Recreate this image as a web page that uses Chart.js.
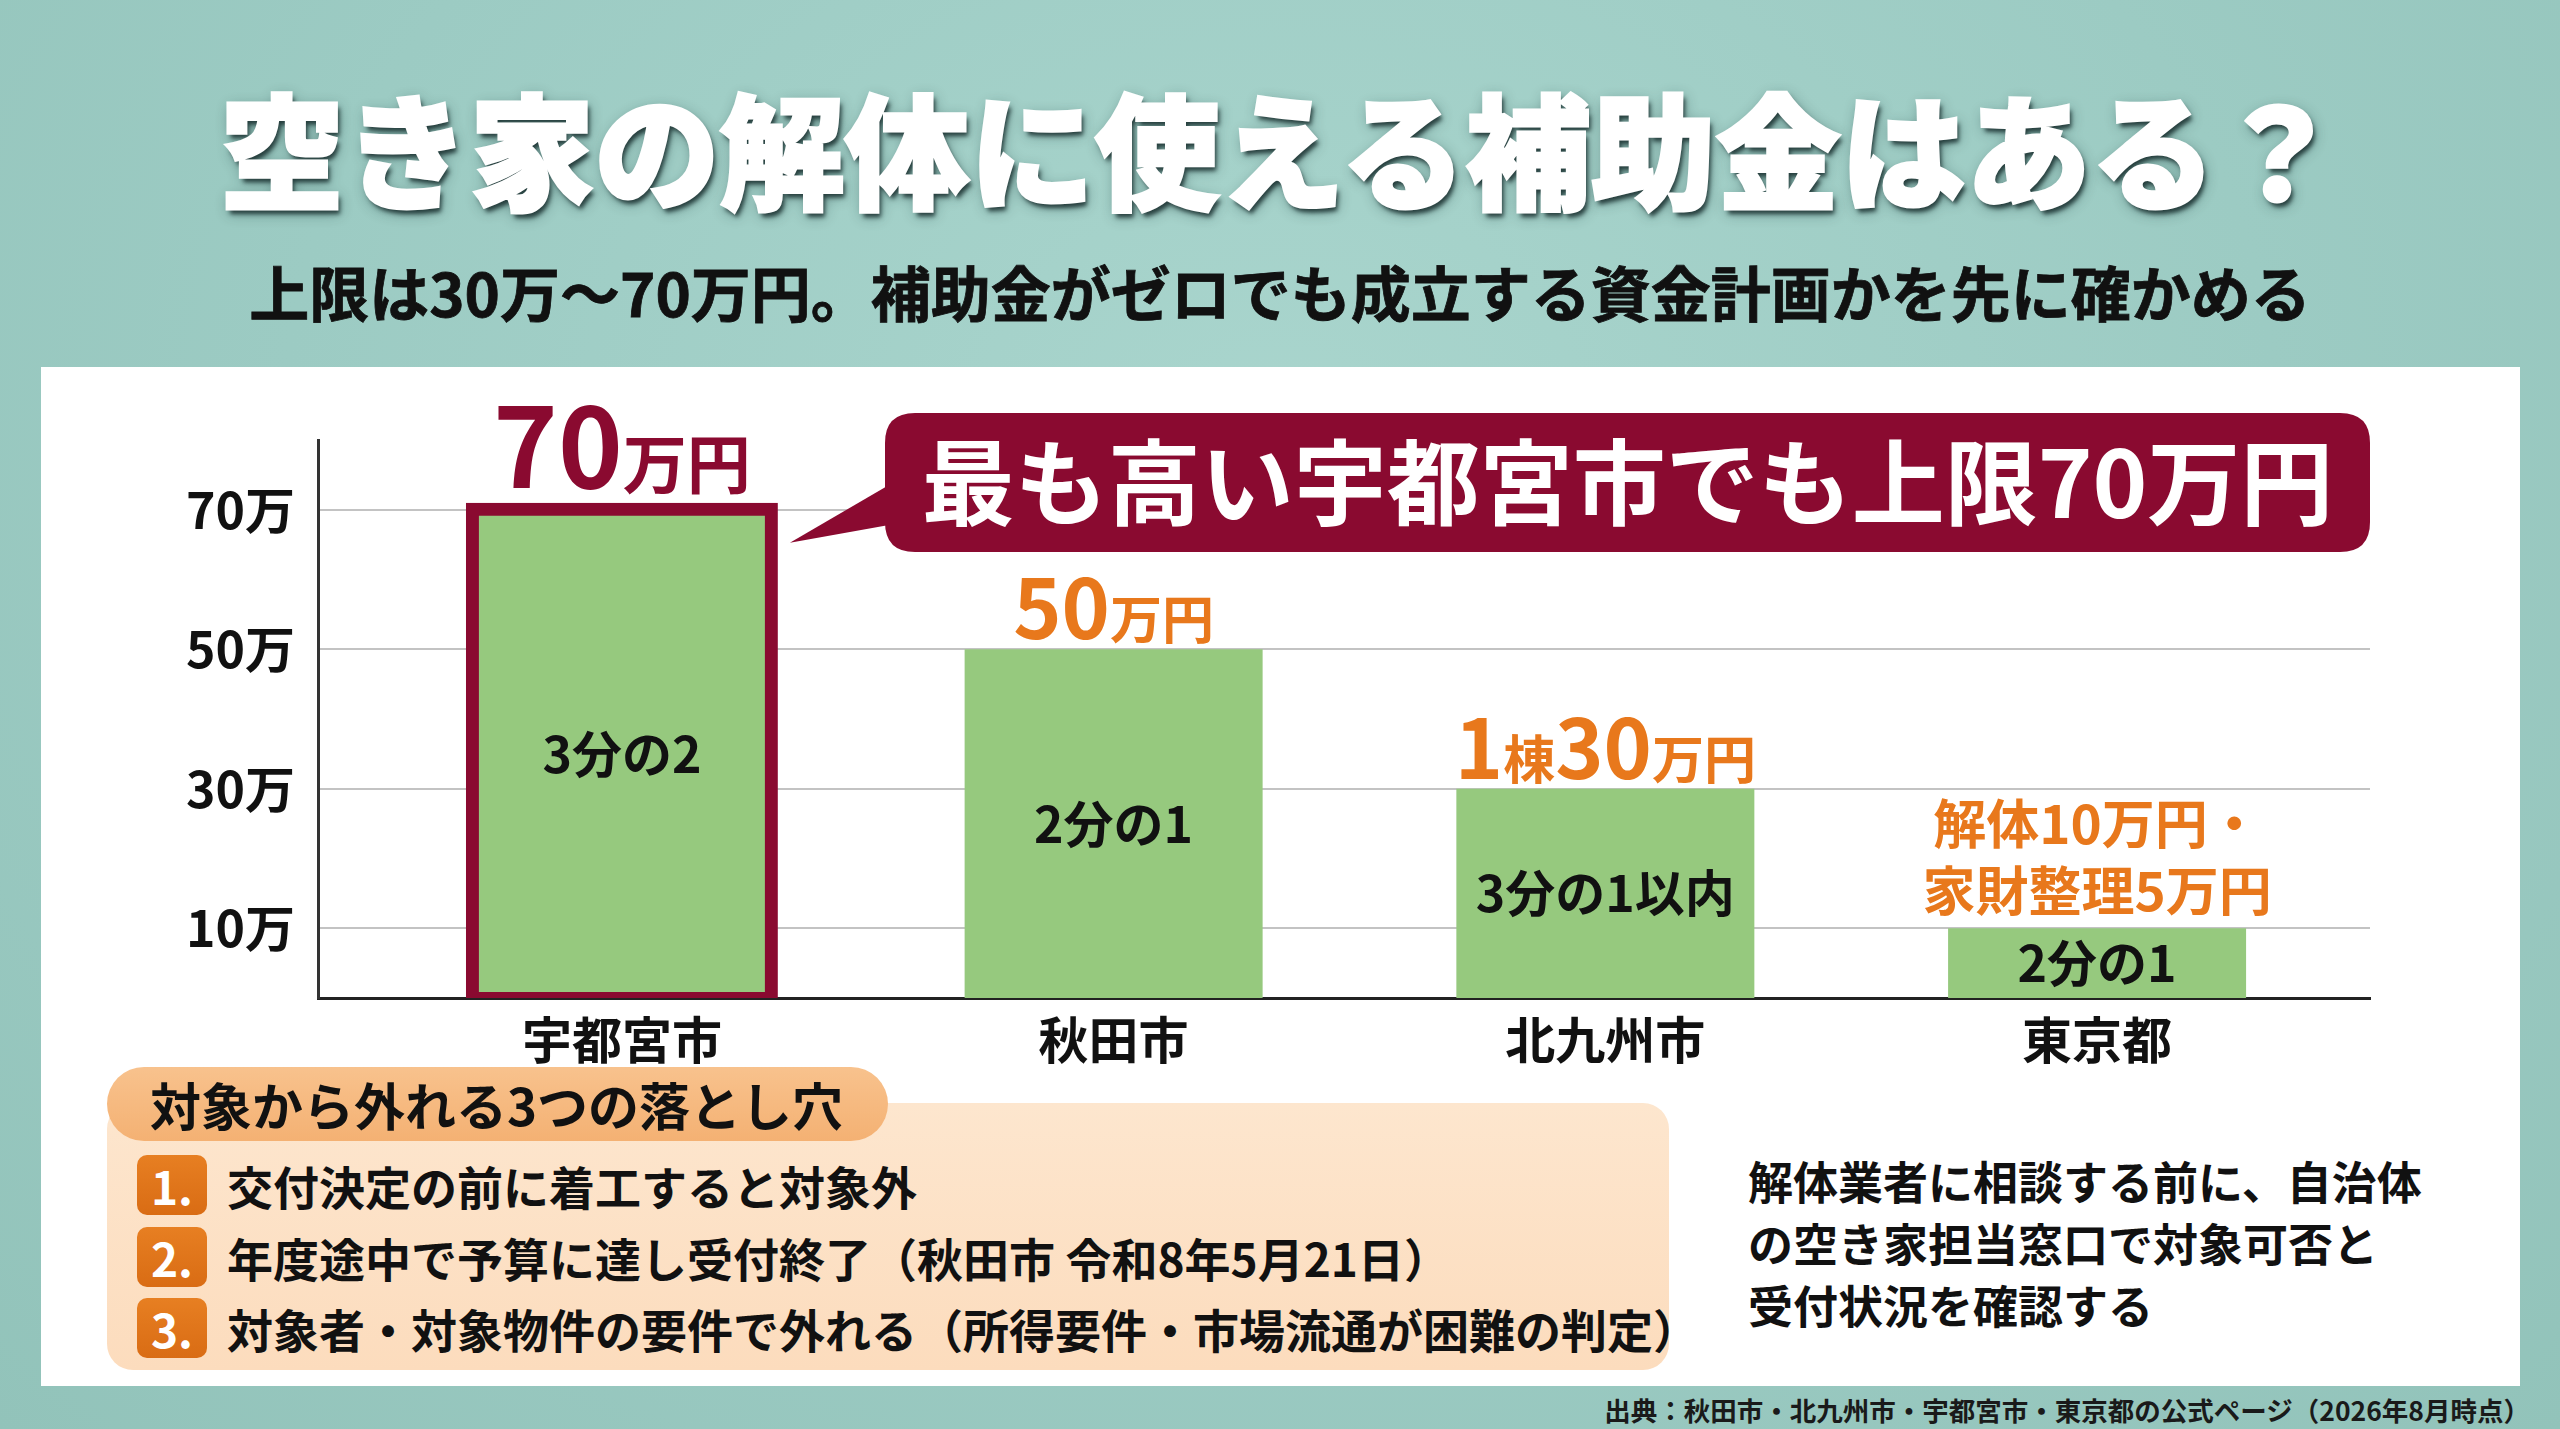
<!DOCTYPE html>
<html lang="ja">
<head>
<meta charset="utf-8">
<title>空き家の解体に使える補助金はある？</title>
<script src="https://cdn.jsdelivr.net/npm/chart.js@4.4.1/dist/chart.umd.min.js"></script>
<style>
html, body { margin: 0; padding: 0; }
body {
    width: 2560px; height: 1429px; overflow: hidden; position: relative;
    background: radial-gradient(ellipse at 50% 30%, #a9d5cd 0%, #9ccbc3 55%, #92c3ba 100%);
    font-family: "Noto Sans CJK JP", "Noto Sans", sans-serif; color: #111;
}
#title {
    position: absolute; left: 0; top: 83px; width: 2560px; text-align: center;
    font-size: 125px; line-height: 125px; font-weight: 900; color: #fff;
    -webkit-text-stroke: 3px #fff;
    text-shadow: 3px 5px 4px rgba(20, 40, 40, 0.8), 2px 4px 14px rgba(20, 50, 50, 0.45);
}
#subtitle {
    position: absolute; left: 0; top: 261px; width: 2560px; text-align: center;
    font-size: 60px; line-height: 60px; font-weight: 700;
    -webkit-text-stroke: 0.8px #111;
}
#panel { position: absolute; left: 41px; top: 367px; width: 2479px; height: 1019px; background: #fff; }
#chart { position: absolute; left: 41px; top: 367px; }
#box {
    position: absolute; left: 107px; top: 1103px; width: 1562px; height: 267px;
    border-radius: 26px; background: linear-gradient(#fde6ce, #fcdcbd);
}
#pill {
    position: absolute; left: 107px; top: 1067px; width: 781px; height: 74px;
    border-radius: 37px; background: linear-gradient(#f8c28d, #f4b173);
    font-size: 51px; line-height: 74px; font-weight: 700; padding-left: 43px; box-sizing: border-box;
}
.item { position: absolute; left: 137px; height: 60px; font-size: 46px; line-height: 60px; font-weight: 700; white-space: nowrap; }
.item .num {
    display: inline-block; width: 70px; height: 60px; border-radius: 10px;
    background: linear-gradient(#e77f22, #d96c14); color: #fff; text-align: center;
    font-size: 46px; vertical-align: top; margin-right: 20px;
}
#note { position: absolute; left: 1748px; top: 1150px; font-size: 45px; line-height: 62px; font-weight: 700; }
#footer { position: absolute; right: 30px; top: 1395px; font-size: 26.5px; line-height: 30px; font-weight: 700; color: #1a1a1a; }
</style>
</head>
<body>
<div id="title"></div>
<div id="subtitle"></div>
<div id="panel"></div>
<canvas id="chart" width="2479" height="720"></canvas>
<div id="box"></div>
<div id="pill"></div>
<div id="items"></div>
<div id="note"></div>
<div id="footer"></div>

<script>
// Chart data (万円)
const cities = ["宇都宮市", "秋田市", "北九州市", "東京都"];
const caps = [70, 50, 30, 10];
const capLabels = ["70万円", "50万円", "1棟30万円", "解体10万円・\n家財整理5万円"];
const rateLabels = ["3分の2", "2分の1", "3分の1以内", "2分の1"];
const yTicks = [10, 30, 50, 70];

// Texts
const titleText = "空き家の解体に使える補助金はある？";
const subtitleText = "上限は30万～70万円。補助金がゼロでも成立する資金計画かを先に確かめる";
const calloutText = "最も高い宇都宮市でも上限70万円";
const pitfallTitle = "対象から外れる3つの落とし穴";
const pitfalls = [
    "交付決定の前に着工すると対象外",
    "年度途中で予算に達し受付終了（秋田市 令和8年5月21日）",
    "対象者・対象物件の要件で外れる（所得要件・市場流通が困難の判定）"
];
const noteLines = [
    "解体業者に相談する前に、自治体",
    "の空き家担当窓口で対象可否と",
    "受付状況を確認する"
];
const sourceText = "出典：秋田市・北九州市・宇都宮市・東京都の公式ページ（2026年8月時点）";

const FONT = '"Noto Sans CJK JP", "Noto Sans", sans-serif';
const GREEN = "#96c97e";
const MAROON = "#8a0a30";
const ORANGE = "#e8781c";


// Page texts
document.getElementById("title").textContent = titleText;
document.getElementById("subtitle").textContent = subtitleText;
document.getElementById("pill").textContent = pitfallTitle;
document.getElementById("note").innerHTML = noteLines.join("<br>");
document.getElementById("footer").textContent = sourceText;

const itemTops = [1155, 1227, 1298];
pitfalls.forEach((t, i) => {
    const div = document.createElement("div");
    div.className = "item";
    div.style.top = itemTops[i] + "px";
    div.innerHTML = '<span class="num">' + (i + 1) + '.</span>' + t;
    document.getElementById("items").appendChild(div);
});


function roundRectPath(ctx, x, y, w, h, r) {
    ctx.beginPath();
    ctx.moveTo(x + r, y);
    ctx.lineTo(x + w - r, y);
    ctx.quadraticCurveTo(x + w, y, x + w, y + r);
    ctx.lineTo(x + w, y + h - r);
    ctx.quadraticCurveTo(x + w, y + h, x + w - r, y + h);
    ctx.lineTo(x + r, y + h);
    ctx.quadraticCurveTo(x, y + h, x, y + h - r);
    ctx.lineTo(x, y + r);
    ctx.quadraticCurveTo(x, y, x + r, y);
    ctx.closePath();
}


// Labels above / inside the bars, and the callout
const labelPlugin = {
    id: "barLabels",
    afterDatasetsDraw(chart) {
        const ctx = chart.ctx;
        const bars = chart.getDatasetMeta(0).data;
        const area = chart.chartArea;

        ctx.save();

        bars.forEach((bar, i) => {

            // rate inside bar
            ctx.font = "bold 50px " + FONT;
            ctx.fillStyle = "#111";
            ctx.textAlign = "center";
            ctx.textBaseline = "middle";
            ctx.fillText(rateLabels[i], bar.x, (bar.y + bar.base) / 2);

            // cap label above bar
            const label = capLabels[i];
            ctx.fillStyle = i === 0 ? MAROON : ORANGE;
            ctx.textBaseline = "alphabetic";

            if (label.includes("\n")) {
                const lines = label.split("\n");
                ctx.font = "bold 53px " + FONT;
                ctx.textAlign = "center";
                lines.forEach((ln, k) => {
                    ctx.fillText(ln, bar.x, bar.y - 17 - (lines.length - 1 - k) * 67);
                });
            } else {
                const big = i === 0 ? 110 : 82;
                const small = i === 0 ? 64 : 52;
                const gap = i === 0 ? 22 : 10;
                const runs = label.match(/\d+|\D+/g).map(t => ({
                    t: t,
                    font: "bold " + (/\d/.test(t) ? big : small) + "px " + FONT
                }));
                let total = 0;
                runs.forEach(r => {
                    ctx.font = r.font;
                    r.w = ctx.measureText(r.t).width;
                    total += r.w;
                });
                let x = bar.x - total / 2;
                ctx.textAlign = "left";
                runs.forEach(r => {
                    ctx.font = r.font;
                    ctx.fillText(r.t, x, bar.y - gap);
                    x += r.w;
                });
            }
        });

        // callout pointing at the highest bar
        const top = bars[0];
        const boxL = area.left + 567;
        const boxT = area.top - 27;
        const boxW = area.right - boxL;
        const boxH = 139;

        ctx.fillStyle = MAROON;
        roundRectPath(ctx, boxL, boxT, boxW, boxH, 30);
        ctx.fill();

        ctx.beginPath();
        ctx.moveTo(boxL + 4, boxT + 72);
        ctx.lineTo(top.x + top.width / 2 + 19, top.y + 33);
        ctx.lineTo(boxL + 4, boxT + 112);
        ctx.closePath();
        ctx.fill();

        ctx.fillStyle = "#fff";
        ctx.font = "bold 93px " + FONT;
        ctx.textAlign = "center";
        ctx.textBaseline = "middle";
        ctx.fillText(calloutText, boxL + boxW / 2, boxT + boxH / 2);

        ctx.restore();
    }
};


const barData = caps.map((v, i) => ({ x: i, y: v }));

new Chart(document.getElementById("chart"), {
    type: "bar",
    data: {
        datasets: [{
            data: barData,
            backgroundColor: GREEN,
            borderColor: MAROON,
            borderWidth: c => c.dataIndex === 0 ? 13 : 0,
            inflateAmount: c => c.dataIndex === 0 ? 7 : 0,
            borderSkipped: false,
            barThickness: 298
        }]
    },
    options: {
        responsive: false,
        animation: false,
        layout: { padding: { top: 73, right: 150, left: 0, bottom: 0 } },
        plugins: {
            legend: { display: false },
            tooltip: { enabled: false }
        },
        scales: {
            x: {
                type: "linear",
                min: -0.618,
                max: 3.555,
                offset: false,
                afterBuildTicks: s => { s.ticks = cities.map((c, i) => ({ value: i })); },
                afterFit: s => { s.height = 89; },
                ticks: {
                    callback: v => cities[v],
                    color: "#111",
                    padding: 12,
                    maxRotation: 0,
                    font: { family: FONT, size: 50, weight: "bold" }
                },
                grid: { display: false, drawTicks: false },
                border: { display: true, color: "#222", width: 3 }
            },
            y: {
                min: 0,
                max: 80,
                afterBuildTicks: s => { s.ticks = yTicks.map(v => ({ value: v })); },
                afterFit: s => { s.width = 277; },
                ticks: {
                    callback: v => v + "万",
                    color: "#111",
                    padding: 23,
                    font: { family: FONT, size: 50, weight: "bold" }
                },
                grid: { color: "#c3c3c3", lineWidth: 2, drawTicks: false },
                border: { display: true, color: "#333", width: 3 }
            }
        }
    },
    plugins: [labelPlugin]
});
</script>
</body>
</html>
